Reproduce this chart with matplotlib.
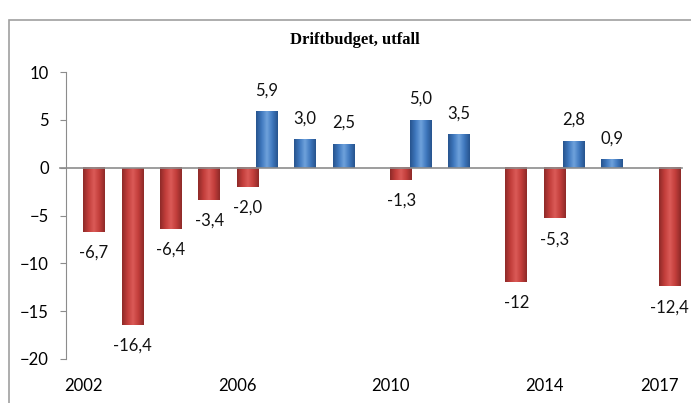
import numpy as np
import matplotlib
matplotlib.use('Agg')
import matplotlib.pyplot as plt
from matplotlib.patches import Rectangle
from matplotlib.colors import LinearSegmentedColormap

# Data (one slot per year, two series)
years = list(range(2002, 2018))
negative = [-6.7, -16.4, -6.4, -3.4, -2.0, np.nan, np.nan, np.nan,
            -1.3, np.nan, np.nan, -12.0, -5.3, np.nan, np.nan, -12.4]
positive = [np.nan, np.nan, np.nan, np.nan, 5.9, 3.0, 2.5, np.nan,
            5.0, 3.5, np.nan, np.nan, 2.8, 0.9, np.nan, np.nan]
labels_neg = ['-6,7', '-16,4', '-6,4', '-3,4', '-2,0', '', '', '',
              '-1,3', '', '', '-12', '-5,3', '', '', '-12,4']
labels_pos = ['', '', '', '', '5,9', '3,0', '2,5', '',
              '5,0', '3,5', '', '', '2,8', '0,9', '', '']
shown_years = [2002, 2006, 2010, 2014, 2017]

plt.rcParams['font.family'] = ['Lato', 'DejaVu Sans']

fig = plt.figure(figsize=(6.91, 4.03), dpi=100)
ax = fig.add_axes([0.0955, 0.1092, 0.891, 0.7121])

x = np.arange(len(years))
width = 0.56

red_cmap = LinearSegmentedColormap.from_list('r', ['#8E2A28', '#C23E3B', '#DB5A57', '#C23E3B', '#8E2A28'])
blue_cmap = LinearSegmentedColormap.from_list('b', ['#27548E', '#3F78BE', '#6FA2DC', '#3F78BE', '#27548E'])
grad = np.linspace(0, 1, 64).reshape(1, -1)

def draw(xpos, vals, cmap, labels):
    bars = ax.bar(xpos, np.nan_to_num(vals), width=width, color='none', edgecolor='none', zorder=2)
    for b, v, lab in zip(bars, vals, labels):
        if np.isnan(v):
            continue
        x0, y0, w, h = b.get_x(), b.get_y(), b.get_width(), b.get_height()
        ax.imshow(grad, cmap=cmap, aspect='auto', zorder=2,
                  extent=(x0, x0 + w, min(y0, y0 + h), max(y0, y0 + h)))
        off = 15 if v > 0 else -15
        ax.annotate(lab, (x0 + w / 2, v), xytext=(0, off), textcoords='offset points',
                    ha='center', va='center', fontsize=12, color='#111111')

draw(x, negative, red_cmap, labels_neg)
draw(x + 0.5, positive, blue_cmap, labels_pos)

ax.axhline(0, xmin=-0.01, xmax=1, color='#8C8C8C', lw=1.2, clip_on=False, zorder=3)

ax.set_xlim(-0.73, 15.31)
ax.set_ylim(-20, 10)
ax.set_yticks([-20, -15, -10, -5, 0, 5, 10])
ax.set_xticks([years.index(y) - 0.27 for y in shown_years])
ax.set_xticklabels([str(y) for y in shown_years])

for s in ['top', 'right', 'bottom']:
    ax.spines[s].set_visible(False)
ax.spines['left'].set_color('#8C8C8C')
ax.tick_params(axis='y', length=4.3, color='#8C8C8C', pad=8, labelsize=12)
ax.tick_params(axis='x', length=0, pad=14, labelsize=12)

fig.text(0.514, 0.90, 'Driftbudget, utfall', ha='center', va='center',
         fontsize=12, fontweight='bold', family='Liberation Serif')

fig.patches.append(Rectangle((9 / 691, -0.1), 1.1, 1.075 - 10 / 403,
                             transform=fig.transFigure, fill=False,
                             edgecolor='#A0A0A0', lw=1.2))

fig.savefig('out.png', dpi=100)
